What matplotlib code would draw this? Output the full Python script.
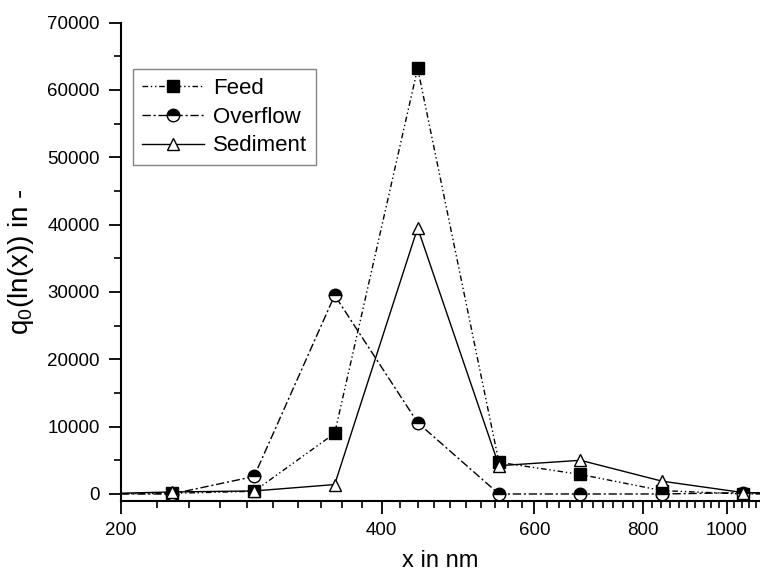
import matplotlib
matplotlib.use("Agg")
import matplotlib.pyplot as plt
from matplotlib.ticker import FixedLocator, FixedFormatter, MultipleLocator, NullFormatter

plt.rcParams['font.family'] = ['Liberation Sans', 'DejaVu Sans']
plt.rcParams['mathtext.default'] = 'regular'

# class centres in nm (geometric steps), outer points are clipped by the axis
x_nm = [184, 229, 285, 353, 440, 546, 678, 842, 1045, 1298]
feed = [0, 100, 400, 9000, 63200, 4700, 2900, 500, 0, 0]
overflow = [0, 0, 2600, 29500, 10600, 0, 0, 0, 200, 0]
sediment = [0, 300, 450, 1400, 39500, 4200, 5000, 1900, 200, 0]

x_major = [200, 400, 600, 800, 1000]
x_minor = [v for v in range(220, 1100, 20) if v not in x_major]

fig = plt.figure(figsize=(7.6, 5.74), dpi=100)
ax = fig.add_axes([0.1588, 0.1272, 0.8412, 0.8336])

ax.plot(x_nm, feed, color='black', lw=1, ls=(0, (4, 2, 1, 2, 1, 2)),
        marker='s', ms=8, mfc='black', mec='black', label='Feed')
ax.plot(x_nm, overflow, color='black', lw=1, ls=(0, (6, 2, 1.5, 2)),
        marker='o', ms=9, fillstyle='top', mfc='black', mfcalt='white',
        mec='black', label='Overflow')
ax.plot(x_nm, sediment, color='black', lw=1, ls='-',
        marker='^', ms=9, mfc='white', mec='black', label='Sediment')

ax.set_xscale('log')
ax.set_xlim(200, 1092)
ax.set_ylim(-1040, 70000)

ax.xaxis.set_major_locator(FixedLocator(x_major))
ax.xaxis.set_major_formatter(FixedFormatter([str(v) for v in x_major]))
ax.xaxis.set_minor_locator(FixedLocator(x_minor))
ax.xaxis.set_minor_formatter(NullFormatter())
ax.yaxis.set_major_locator(MultipleLocator(10000))
ax.yaxis.set_minor_locator(MultipleLocator(5000))

ax.spines['top'].set_visible(False)
ax.spines['right'].set_visible(False)
for s in ('left', 'bottom'):
    ax.spines[s].set_linewidth(1.5)

ax.tick_params(which='major', direction='out', length=9, width=1.3, labelsize=13.5, pad=6)
ax.tick_params(which='minor', direction='out', length=5, width=1.2)

ax.set_xlabel('x in nm', fontsize=17, labelpad=8)
ax.set_ylabel('q$_0$(ln(x)) in -', fontsize=20, labelpad=8)

leg = ax.legend(loc='upper left', bbox_to_anchor=(0.019, 0.903), fontsize=16,
                frameon=True, fancybox=False, edgecolor='#666666',
                handlelength=2.8, borderpad=0.4, labelspacing=0.35,
                handletextpad=0.4, borderaxespad=0)
leg.get_frame().set_linewidth(1.0)

fig.savefig('out.png', dpi=100)
